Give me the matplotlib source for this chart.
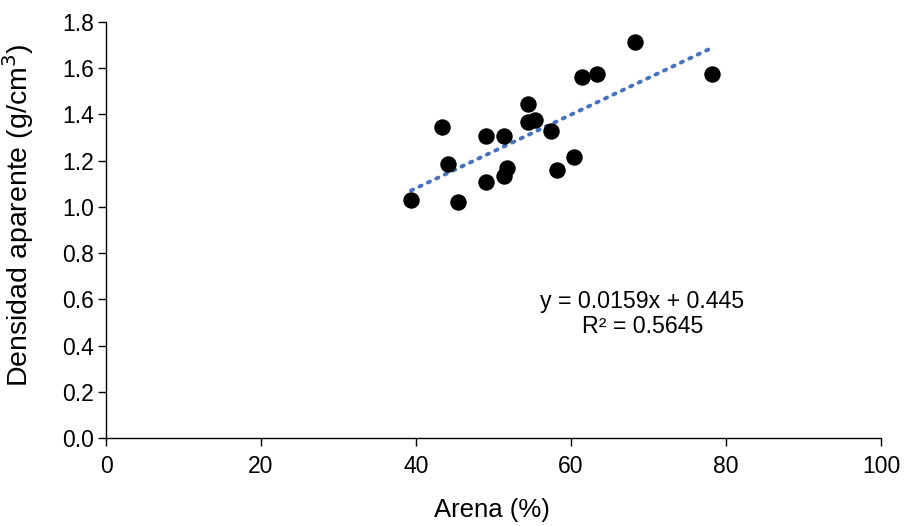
import numpy as np
import matplotlib
matplotlib.use("Agg")
import matplotlib.pyplot as plt

plt.rcParams['font.family'] = ['Liberation Sans', 'DejaVu Sans']

arena = [39.35, 45.4, 43.4, 44.1, 49.0, 49.0, 51.4, 51.8, 51.4, 54.4, 54.4, 55.4,
         57.4, 58.2, 60.4, 61.4, 63.4, 68.2, 78.2]
densidad = [1.028, 1.020, 1.346, 1.184, 1.106, 1.307, 1.307, 1.170, 1.135, 1.445,
            1.367, 1.376, 1.330, 1.160, 1.215, 1.561, 1.575, 1.715, 1.575]
slope, intercept = 0.0159, 0.445
eq_line1 = "y = 0.0159x + 0.445"
eq_line2 = "R² = 0.5645"

fig = plt.figure(figsize=(9.07, 5.26), dpi=100)
ax = fig.add_axes([0.1169, 0.1673, 0.8544, 0.7909])

ax.scatter(arena, densidad, s=140, color='black', zorder=3, linewidths=0)
xs = np.array([min(arena), max(arena)])
ax.plot(xs, slope * xs + intercept, linestyle=(0, (0.6, 1.8)), color='#4472C4',
        linewidth=2.8, dash_capstyle='round', zorder=2)

ax.text(69.2, 0.5625, eq_line1, ha='center', va='baseline', fontsize=16.7)
ax.text(69.2, 0.454, eq_line2, ha='center', va='baseline', fontsize=16.7)

ax.set_xlim(0, 100)
ax.set_ylim(0, 1.8)
ax.set_xticks(np.arange(0, 101, 20))
ax.set_yticks(np.arange(0, 1.81, 0.2))
ax.set_yticklabels([f"{v:.1f}" for v in np.arange(0, 1.81, 0.2)])
ax.tick_params(labelsize=16.5, length=6, width=1, direction='out')
ax.tick_params(axis='x', pad=6.5)
ax.tick_params(axis='y', pad=2.5)
ax.spines['top'].set_visible(False)
ax.spines['right'].set_visible(False)
for s in ('left', 'bottom'):
    ax.spines[s].set_linewidth(1)

ax.set_xlabel("Arena (%)", fontsize=18.5)
ax.set_ylabel("Densidad aparente (g/cm$^3$)", fontsize=20.5)
ax.xaxis.label.set(va='center', ha='center')
ax.yaxis.label.set(va='center', ha='center')
ax.xaxis.set_label_coords(0.498, -0.173)
ax.yaxis.set_label_coords(-0.113, 0.536)

fig.savefig("out.png", dpi=100)
